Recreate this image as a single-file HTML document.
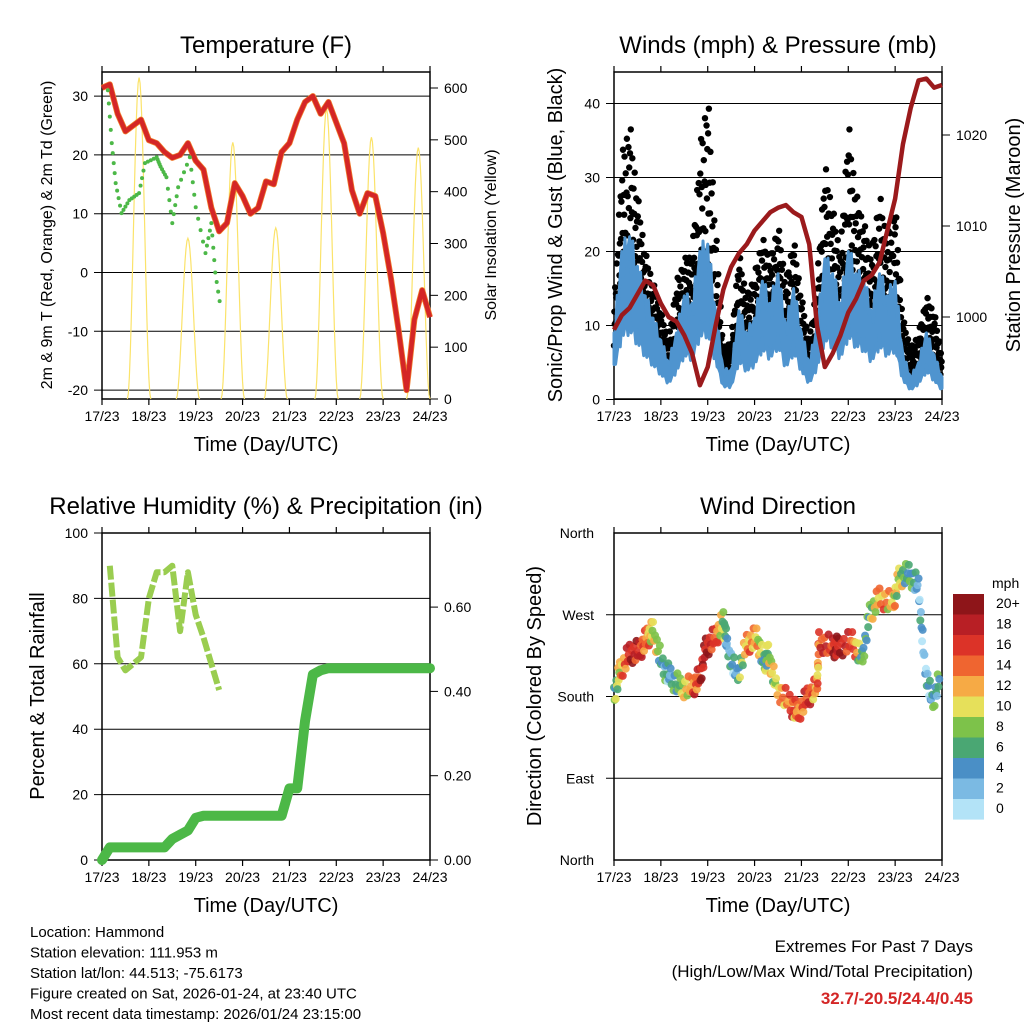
<!DOCTYPE html>
<html><head><meta charset="utf-8"><style>
html,body{margin:0;padding:0;background:#fff}
svg{display:block;font-family:"Liberation Sans",Arial,sans-serif}
</style></head><body>
<svg id="s" width="1024" height="1024" viewBox="0 0 1024 1024" xmlns="http://www.w3.org/2000/svg"></svg>
<script>
// ---------- DATA ----------
const dayLabels=["17/23","18/23","19/23","20/23","21/23","22/23","23/23","24/23"];
const tempF=[31.4,32,27,24,25,26,22.5,22,20.5,19.5,20,22,19,17.5,11,7,8.4,15.2,13,10,11,15.5,15,20.5,22,26,29,30,27,29,25.5,22,14,10,13.5,13,6.7,-1,-10,-20,-8,-3,-7.6];
const dewHours=[3,5,7,10,14,19,22,28,30,33,36,39,45,48,53,56,58,61];
const dewF=[31,22,15.2,10.1,12.3,13.5,18.6,19.6,18,16.2,8.4,14.5,19.6,11.1,3.3,8.4,0,-6.5];
const solarPeakHour=[19,44,67,89,115,138,162];
const solarPeak=[620,310,495,330,560,505,485];
const tempTicks=[-20,-10,0,10,20,30];
const solarTicks=[0,100,200,300,400,500,600];
const windMph=[9,20,22,18,14,11,8,5,9,14,13,20,21,12,4,4,12,9,11,16,13,17,10,15,9,5,10,19,17,13,20,17,16,12,17,14,16,6,3,5,9,6,3];
const gustMph=[12,33,38,28,20,16,12,8,16,19,20,34,42,24,7,8,20,14,17,22,19,24,16,22,14,8,16,32,26,20,38,28,24,20,28,22,27,11,7,9,14,12,6];
const pressureMb=[998.6,1000.2,1001,1002.5,1004,1003.5,1001.5,1000,999.5,998,996,992.5,994.5,999,1003,1005.5,1007,1008,1009.5,1010.5,1011.5,1012,1012.3,1011.5,1011,1008,999,994.5,996,998,1000.5,1002,1004,1004.6,1006,1009.5,1013,1019,1023,1026,1026.2,1025.2,1025.5];
const windTicks=[0,10,20,30,40];
const pressTicks=[1000,1010,1020];
const rhHours=[4,8,12,16,20,24,28,32,36,40,44,48,52,56,60];
const rhPct=[90,62,58,60,62,80,88,88,90,70,88,75,68,60,52];
const precipIn=[0,0.03,0.03,0.03,0.03,0.03,0.03,0.03,0.03,0.05,0.06,0.07,0.1,0.105,0.105,0.105,0.105,0.105,0.105,0.105,0.105,0.105,0.105,0.105,0.17,0.17,0.33,0.44,0.45,0.455,0.455,0.455,0.455,0.455,0.455,0.455,0.455,0.455,0.455,0.455,0.455,0.455,0.455];
const rhTicks=[0,20,40,60,80,100];
const precipTicks=[0,0.2,0.4,0.6];
const dirHours=[0,3,8,13,17,20,25,29,34,40,44,47,52,56,58,63,68,73,77,79,83,90,94,99,104,105,112,115,122,127,131,136,143,146,151,156,159,163,167];
const dirDeg=[180,208,227,230,245,252,212,201,190,190,201,234,245,263,234,201,238,245,216,227,190,172,161,179,190,241,234,234,241,220,271,289,282,311,315,300,216,172,201];
const dirSpeed=[6,12,19,18,14,11,6,4,9,15,18,20,16,9,4,5,14,13,6,10,11,16,14,17,13,16,18,20,17,6,8,14,12,10,7,4,3,6,7];
const cbLabels=["20+","18","16","14","12","10","8","6","4","2","0"];
const cbColors=["#8e1519","#b81f25","#dc3328","#ef6530","#f6aa45","#e6e05a","#7dc24a","#4aa773","#4a8fc6","#7bbae3","#b3e3f7"];

// ---------- HELPERS ----------
const S=document.getElementById('s');
const NS="http://www.w3.org/2000/svg";
function el(tag,attrs,parent){const e=document.createElementNS(NS,tag);for(const k in attrs)e.setAttribute(k,attrs[k]);(parent||S).appendChild(e);return e;}
function txt(x,y,s,size,anchor,parent,extra){const t=el('text',Object.assign({x:x,y:y,'font-size':size,'text-anchor':anchor||'middle',fill:'#000'},extra||{}),parent);t.textContent=s;return t;}
function lin(d0,d1,r0,r1){return v=>r0+(v-d0)/(d1-d0)*(r1-r0);}

function frame(g,L,R,T,B,title,xlab){
  txt((L+R)/2,T-19,title,24,'middle',g);
  el('rect',{x:L,y:T,width:R-L,height:B-T,fill:'none',stroke:'#000','stroke-width':1.5},g);
  const X=lin(0,168,L,R);
  for(let i=0;i<8;i++){const x=X(i*24);
    el('line',{x1:x,y1:B,x2:x,y2:B+6,stroke:'#000','stroke-width':1.2},g);
    el('line',{x1:x,y1:T,x2:x,y2:T-6,stroke:'#000','stroke-width':1.2},g);
    const t=txt(x,B+22,dayLabels[i],14,'middle',g);
    }
  const xl=txt((L+R)/2,B+52,xlab,20,'middle',g);
  
  return X;
}
function grid(g,L,R,y){el('line',{x1:L,y1:y,x2:R,y2:y,stroke:'#000','stroke-width':1},g);}

// ---------- PANEL 1 TEMPERATURE ----------
(function(){
const g=el('g',{});
const L=102,R=430,T=72,B=399;
const X=frame(g,L,R,T,B,"Temperature (F)","Time (Day/UTC)");
const Y=lin(0,10,272.5,213.7);
const YS=lin(0,600,399,88);
tempTicks.forEach(v=>{grid(g,L-8,R,Y(v));const t=txt(L-14,Y(v)+5,String(v),14,'end',g);});
solarTicks.forEach(v=>{el('line',{x1:R,y1:YS(v),x2:R+8,y2:YS(v),stroke:'#000'},g);txt(R+14,YS(v)+5,String(v),14,'start',g);});
const sg=el('g',{},g);
solarPeakHour.forEach((h,i)=>{
  let pts=[];for(let k=-6;k<=6;k+=0.5){const f=Math.max(0,Math.cos(k/6*Math.PI/2));pts.push(X(h+k)+','+YS(solarPeak[i]*f*f));}
  el('polyline',{points:pts.join(' '),fill:'none',stroke:'#fbe36a','stroke-width':1.2},sg);
});
const tp=tempF.map((v,i)=>X(i*4)+','+Y(v)).join(' ');
el('polyline',{points:tp,fill:'none',stroke:'#f07a2a','stroke-width':6,'stroke-linejoin':'round'},g);
const tl=el('polyline',{points:tp,fill:'none',stroke:'#d42626','stroke-width':4.5,'stroke-linejoin':'round'},g);

const dg=el('g',{},g);
for(let i=0;i<dewHours.length-1;i++){for(let k=0;k<4;k++){const f=k/4;
  el('circle',{cx:X(dewHours[i]+(dewHours[i+1]-dewHours[i])*f),cy:Y(dewF[i]+(dewF[i+1]-dewF[i])*f),r:2,fill:'#4cb847'},dg);}}
const yl=txt(0,0,"2m & 9m T (Red, Orange) & 2m Td (Green)",16,'middle',g,{transform:'translate(52,235) rotate(-90)'});

txt(0,0,"Solar Insolation (Yellow)",16,'middle',g,{transform:'translate(496,235) rotate(-90)'});
})();

// ---------- PANEL 2 WINDS ----------
(function(){
const g=el('g',{});
const L=614,R=942,T=72,B=399;
const X=frame(g,L,R,T,B,"Winds (mph) & Pressure (mb)","Time (Day/UTC)");
const Y=lin(0,10,399.5,325.5);
const YP=lin(1000,1010,317,226);
windTicks.forEach(v=>{grid(g,L-8,R,Y(v));txt(L-14,Y(v)+5,String(v),14,'end',g);});
pressTicks.forEach(v=>{el('line',{x1:R,y1:YP(v),x2:R+8,y2:YP(v),stroke:'#000'},g);txt(R+14,YP(v)+5,String(v),14,'start',g);});
const pat=[0.1,0.8,0.4,1,0.25,0.65,0.5,0.9,0.05,0.35,0.75,0.2,0.6,0.95,0.3,0.55,0.15,0.85,0.45,0.7];
const bg=el('g',{},g);
for(let i=0;i<gustMph.length-1;i++){for(let k=0;k<20;k++){const f=k/20;
  const w=windMph[i]+(windMph[i+1]-windMph[i])*f, gu=gustMph[i]+(gustMph[i+1]-gustMph[i])*f;
  el('circle',{cx:X(i*4+4*f),cy:Y(w*0.75+(gu-w*0.75)*pat[k]),r:3.2,fill:'#000'},bg);}}
// wind band (jagged)
const jag=[1,0.8,1.05,0.85,0.95];
let up=[],lo=[];
for(let i=0;i<windMph.length-1;i++){for(let k=0;k<5;k++){const f=k/5;const v=windMph[i]+(windMph[i+1]-windMph[i])*f;
  up.push(X(i*4+4*f)+','+Y(v*jag[k]));lo.unshift(X(i*4+4*f)+','+Y(v*0.5*jag[(k+2)%5]));}}
const n=windMph.length-1;up.push(X(n*4)+','+Y(windMph[n]));lo.unshift(X(n*4)+','+Y(windMph[n]*0.5));
const wb=el('polygon',{points:up.concat(lo).join(' '),fill:'#4f94cf',stroke:'#4f94cf','stroke-width':3,'stroke-linejoin':'round'},g);

const pl=el('polyline',{points:pressureMb.map((v,i)=>X(i*4)+','+YP(v)).join(' '),fill:'none',stroke:'#9b1a1c','stroke-width':4.5,'stroke-linejoin':'round'},g);

txt(0,0,"Sonic/Prop Wind & Gust (Blue, Black)",20,'middle',g,{transform:'translate(562,235) rotate(-90)'});
txt(0,0,"Station Pressure (Maroon)",20,'middle',g,{transform:'translate(1020,235) rotate(-90)'});
})();

// ---------- PANEL 3 RH ----------
(function(){
const g=el('g',{});
const L=102,R=430,T=533,B=860;
const X=frame(g,L,R,T,B,"Relative Humidity (%) & Precipitation (in)","Time (Day/UTC)");
const Y=lin(0,100,860,533);
const YP=lin(0,0.2,860,775.7);
rhTicks.forEach(v=>{if(v<100)grid(g,L-8,R,Y(v));else el('line',{x1:L-8,y1:Y(v),x2:L,y2:Y(v),stroke:'#000'},g);txt(L-14,Y(v)+5,String(v),14,'end',g);});
precipTicks.forEach(v=>{el('line',{x1:R,y1:YP(v),x2:R+8,y2:YP(v),stroke:'#000'},g);txt(R+14,YP(v)+5,v.toFixed(2),14,'start',g);});
const rl=el('polyline',{points:rhHours.map((h,i)=>X(h)+','+Y(rhPct[i])).join(' '),fill:'none',stroke:'#9acd50','stroke-width':6,'stroke-linejoin':'round','stroke-dasharray':'14 3'},g);

const pp=el('polyline',{points:precipIn.map((v,i)=>X(i*4)+','+YP(v)).join(' '),fill:'none',stroke:'#4cb847','stroke-width':10,'stroke-linejoin':'round','stroke-linecap':'round'},g);

txt(0,0,"Percent & Total Rainfall",20,'middle',g,{transform:'translate(44,696) rotate(-90)'});
})();

// ---------- PANEL 4 WIND DIRECTION ----------
(function(){
const g=el('g',{});
const L=614,R=942,T=533,B=860;
const X=frame(g,L,R,T,B,"Wind Direction","Time (Day/UTC)");
const Y=lin(0,360,860,533);
["North","East","South","West","North"].forEach((n,i)=>{if(i>0&&i<4)grid(g,L-8,R,Y(i*90));txt(L-20,Y(i*90)+5,n,14,'end',g);});
function col(s){let idx=Math.max(0,Math.min(10,Math.floor(s/2)));return cbColors[10-idx];}
const off=[-9,6,-3,10,-6,2,8,-11,4,-1];
const sp=[0,2,-2,3,-1,1,-3,2,0,-2];
const dg=el('g',{},g);
for(let i=0;i<dirHours.length-1;i++){for(let k=0;k<10;k++){const f=k/10;
  const s=dirSpeed[i]+(dirSpeed[i+1]-dirSpeed[i])*f+sp[k];
  el('circle',{cx:X(dirHours[i]+(dirHours[i+1]-dirHours[i])*f),cy:Y(dirDeg[i]+(dirDeg[i+1]-dirDeg[i])*f)+off[k],r:4,fill:col(s),opacity:0.9},dg);}}
txt(0,0,"Direction (Colored By Speed)",20,'middle',g,{transform:'translate(541,696) rotate(-90)'});
const cb=el('g',{},g);
txt(992,588,"mph",14,'start',cb);
cbColors.forEach((c,i)=>{el('rect',{x:953,y:594+i*20.5,width:31,height:20.6,fill:c},cb);
  txt(996,608+i*20.5,cbLabels[i],14,'start',cb);});
})();

// ---------- FOOTER ----------
const info=["Location: Hammond","Station elevation: 111.953 m","Station lat/lon: 44.513; -75.6173","Figure created on Sat, 2026-01-24, at 23:40 UTC","Most recent data timestamp: 2026/01/24 23:15:00"];
info.forEach((s,i)=>{const t=txt(30,937+i*20.5,s,15,'start');});
let e1=txt(973,952,"Extremes For Past 7 Days",17,'end');
txt(973,977,"(High/Low/Max Wind/Total Precipitation)",17,'end');
let e3=txt(973,1004,"32.7/-20.5/24.4/0.45",17,'end',null,{fill:'#d42626','font-weight':'bold'});

</script>
</body></html>
